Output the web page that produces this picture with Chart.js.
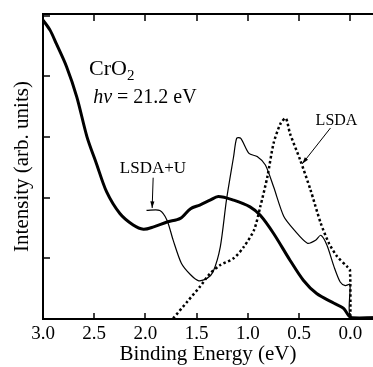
<!DOCTYPE html>
<html>
<head>
<meta charset="utf-8">
<script src="https://cdn.jsdelivr.net/npm/chart.js@4.4.1/dist/chart.umd.min.js"></script>
<style>
  body { margin: 0; background: #fff; }
  canvas { display: block; }
</style>
</head>
<body>
<canvas id="chart" width="373" height="367"></canvas>
<script>
// Experiment (thick line)
const expEnergy = [3.0, 2.93, 2.87, 2.77, 2.67, 2.57, 2.48, 2.38, 2.25, 2.12, 2.02, 1.92, 1.79, 1.66, 1.56, 1.47, 1.37, 1.29, 1.14, 0.98, 0.88, 0.75, 0.59, 0.46, 0.33, 0.16, 0.07, 0.01, -0.02, -0.22];
const expIntensity = [4.93, 4.76, 4.54, 4.16, 3.66, 3.0, 2.57, 2.10, 1.74, 1.55, 1.48, 1.52, 1.60, 1.66, 1.82, 1.88, 1.96, 2.02, 1.96, 1.85, 1.71, 1.41, 0.97, 0.64, 0.42, 0.26, 0.18, 0.04, 0.02, 0.02];

// LSDA+U (thin line)
const ldauEnergy = [1.99, 1.86, 1.79, 1.73, 1.65, 1.56, 1.48, 1.40, 1.34, 1.27, 1.21, 1.14, 1.11, 1.07, 0.99, 0.91, 0.83, 0.75, 0.65, 0.55, 0.42, 0.34, 0.29, 0.23, 0.16, 0.10, 0.05, 0.005, 0.0, -0.22];
const ldauIntensity = [1.79, 1.79, 1.63, 1.30, 0.92, 0.73, 0.63, 0.67, 0.78, 1.19, 1.96, 2.68, 2.98, 2.98, 2.73, 2.68, 2.54, 2.18, 1.69, 1.47, 1.25, 1.30, 1.38, 1.22, 0.86, 0.61, 0.55, 0.57, 0.03, 0.03];

// LSDA (dotted line)
const ldaEnergy = [1.73, 1.59, 1.47, 1.37, 1.27, 1.14, 1.04, 0.94, 0.88, 0.81, 0.75, 0.68, 0.63, 0.59, 0.49, 0.39, 0.29, 0.21, 0.13, 0.03, 0.005, 0.0];
const ldaIntensity = [0.01, 0.29, 0.53, 0.75, 0.89, 1.0, 1.19, 1.47, 1.85, 2.35, 2.90, 3.23, 3.31, 3.06, 2.62, 2.13, 1.58, 1.25, 1.03, 0.86, 0.81, 0.02];

const xTicks = [3.0, 2.5, 2.0, 1.5, 1.0, 0.5, 0.0];
const yTicks = [0, 1, 2, 3, 4, 5];

const serif = "'Liberation Serif', 'DejaVu Serif', serif";

function toPoints(xs, ys) {
  return xs.map((x, i) => ({ x: x, y: ys[i] }));
}

// frame, inward ticks, labels and arrows
const decorPlugin = {
  id: "decor",
  afterDraw(chart) {
    const ctx = chart.ctx;
    const a = chart.chartArea;
    const xs = chart.scales.x;
    const ys = chart.scales.y;
    ctx.save();
    ctx.strokeStyle = "#000";
    ctx.lineWidth = 2;
    ctx.beginPath();
    ctx.moveTo(a.right, a.top);
    ctx.lineTo(a.left, a.top);
    ctx.lineTo(a.left, a.bottom);
    ctx.lineTo(a.right, a.bottom);
    ctx.stroke();

    ctx.lineWidth = 1.5;
    ctx.beginPath();
    xTicks.forEach((v) => {
      const px = Math.round(xs.getPixelForValue(v));
      ctx.moveTo(px, a.bottom);
      ctx.lineTo(px, a.bottom - 6);
      ctx.moveTo(px, a.top);
      ctx.lineTo(px, a.top + 7);
    });
    yTicks.forEach((v) => {
      const py = Math.round(ys.getPixelForValue(v));
      ctx.moveTo(a.left, py);
      ctx.lineTo(a.left + 7, py);
    });
    ctx.stroke();

    ctx.fillStyle = "#000";
    ctx.textBaseline = "alphabetic";
    ctx.textAlign = "left";
    const X = (v) => xs.getPixelForValue(v);
    const Y = (v) => ys.getPixelForValue(v);

    // CrO2
    ctx.font = "22px " + serif;
    ctx.fillText("CrO", X(2.55), Y(4.02));
    const w = ctx.measureText("CrO").width;
    ctx.font = "15px " + serif;
    ctx.fillText("2", X(2.55) + w, Y(4.02) + 5);

    // h nu
    ctx.font = "italic 20px " + serif;
    ctx.fillText("hν", X(2.51), Y(3.56));
    const w2 = ctx.measureText("hν").width;
    ctx.font = "20px " + serif;
    ctx.fillText(" = 21.2 eV", X(2.51) + w2, Y(3.56));

    ctx.font = "17px " + serif;
    ctx.fillText("LSDA+U", X(2.25), Y(2.41));
    ctx.font = "16px " + serif;
    ctx.fillText("LSDA", X(0.34), Y(3.2));

    drawArrow(ctx, X(1.925), Y(2.33), X(1.935), Y(1.83));
    drawArrow(ctx, X(0.195), Y(3.15), X(0.47), Y(2.56));
    ctx.restore();
  },
};

function drawArrow(ctx, x1, y1, x2, y2) {
  const ang = Math.atan2(y2 - y1, x2 - x1);
  ctx.lineWidth = 1;
  ctx.beginPath();
  ctx.moveTo(x1, y1);
  ctx.lineTo(x2, y2);
  ctx.stroke();
  const len = 7;
  ctx.beginPath();
  ctx.moveTo(x2, y2);
  ctx.lineTo(x2 - len * Math.cos(ang - 0.3), y2 - len * Math.sin(ang - 0.3));
  ctx.lineTo(x2 - len * Math.cos(ang + 0.3), y2 - len * Math.sin(ang + 0.3));
  ctx.closePath();
  ctx.fill();
}

const ctx = document.getElementById("chart").getContext("2d");
const chart = new Chart(ctx, {
  type: "line",
  data: {
    datasets: [
      {
        label: "Experiment",
        data: toPoints(expEnergy, expIntensity),
        borderColor: "#000",
        borderWidth: 3,
        pointRadius: 0,
        tension: 0.3,
        fill: false,
      },
      {
        label: "LSDA+U",
        data: toPoints(ldauEnergy, ldauIntensity),
        borderColor: "#000",
        borderWidth: 1.2,
        pointRadius: 0,
        tension: 0.25,
        fill: false,
      },
      {
        label: "LSDA",
        data: toPoints(ldaEnergy, ldaIntensity),
        borderColor: "#000",
        borderWidth: 2.5,
        borderDash: [2.5, 2.5],
        pointRadius: 0,
        tension: 0.25,
        fill: false,
      },
    ],
  },
  options: {
    responsive: false,
    animation: false,
    devicePixelRatio: 1,
    layout: { padding: { top: 14, left: 0, right: 0, bottom: 0 } },
    plugins: {
      legend: { display: false },
      tooltip: { enabled: false },
    },
    scales: {
      x: {
        type: "linear",
        reverse: true,
        min: -0.22,
        max: 3.0,
        border: { display: false },
        grid: { display: false, drawTicks: false },
        afterFit: (s) => { s.height = 48; },
        afterBuildTicks: (s) => { s.ticks = xTicks.map((v) => ({ value: v })); },
        ticks: {
          padding: 4,
          maxRotation: 0,
          autoSkip: false,
          color: "#000",
          font: { family: serif, size: 19 },
          callback: (v) => Number(v).toFixed(1),
        },
        title: {
          display: true,
          text: "Binding Energy (eV)",
          color: "#000",
          font: { family: serif, size: 21 },
          padding: { top: 0, bottom: 0 },
        },
      },
      y: {
        type: "linear",
        min: 0,
        max: 5.03,
        border: { display: false },
        grid: { display: false, drawTicks: false },
        afterFit: (s) => { s.width = 43; },
        afterBuildTicks: (s) => { s.ticks = yTicks.map((v) => ({ value: v })); },
        ticks: { display: false },
        title: {
          display: true,
          text: "Intensity (arb. units)",
          color: "#000",
          font: { family: serif, size: 21 },
          padding: { top: 10, bottom: 0 },
        },
      },
    },
  },
  plugins: [decorPlugin],
});
</script>
</body>
</html>
